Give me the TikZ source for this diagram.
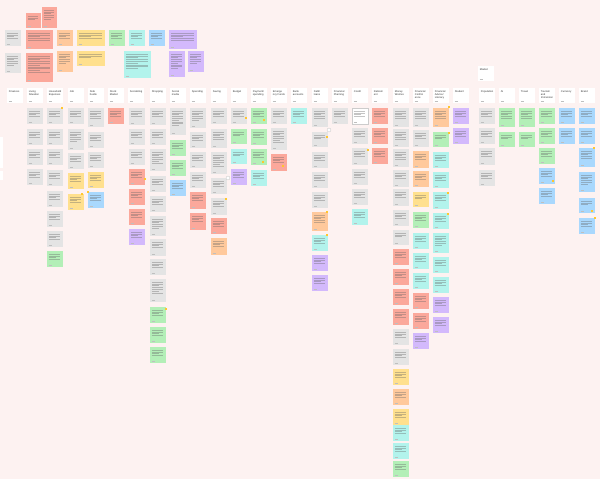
\documentclass[tikz,border=0pt]{standalone}
\usepackage{fontspec}
\setmainfont{Liberation Sans}
\usetikzlibrary{shadows}
\definecolor{bg}{HTML}{FDF2F1}
\definecolor{sg}{HTML}{E4E4E4}
\definecolor{sr}{HTML}{FBA89B}
\definecolor{so}{HTML}{FFC99C}
\definecolor{sy}{HTML}{FFE08E}
\definecolor{sgr}{HTML}{B3EFB7}
\definecolor{sc}{HTML}{B2F3EC}
\definecolor{sb}{HTML}{A9D8FD}
\definecolor{sp}{HTML}{D3B9FC}
\definecolor{sw}{HTML}{FFFFFF}
\definecolor{tagy}{HTML}{FFC62E}
\tikzset{
 stickybox/.style={anchor=north west, inner sep=0pt, minimum width=0.8cm, draw=none,
   drop shadow={opacity=0.12, shadow xshift=0.15pt, shadow yshift=-0.35pt}},
 headbox/.style={stickybox, fill=white, minimum height=0.75cm},
 headtext/.style={anchor=north west, inner sep=0pt, font=\fontsize{3.7}{4.5}\selectfont, align=left, text=black!80},
 fakeline/.style={draw=black!60, line width=0.2pt, opacity=0.38},
 footline/.style={draw=black!25, line width=0.3pt},
 tagdot/.style={fill=tagy, draw=none, inner sep=0pt, minimum size=0.13cm, anchor=center},
 bubble/.style={fill=white, draw=black!35, line width=0.2pt, circle, inner sep=0pt, minimum size=0.2cm}
}
\newcommand\stk[5]{%
 \node[stickybox, fill=#5, minimum height={#4*0.05cm}] (#1) at (#2,#3) {};
 \pgfmathtruncatemacro\nl{max(2,min(11,(#4-8)/2))}%
 \foreach \k in {1,...,\nl}{\pgfmathsetmacro\ll{mod(\k,3)==0?7:11.5}\draw[fakeline] ([shift={(1.8,1.0+1.8*\k)}]#1.north west) -- ++(\ll,0);}
 \draw[footline] ([shift={(1.8,-2.2)}]#1.south west) -- ++(3,0);
}
\newcommand\stkw[6]{% wide sticky: name x y w h color
 \node[stickybox, fill=#6, minimum width={#4*0.05cm}, minimum height={#5*0.05cm}] (#1) at (#2,#3) {};
 \pgfmathtruncatemacro\nl{max(2,min(14,(#5-8)/2))}%
 \foreach \k in {1,...,\nl}{\pgfmathsetmacro\ll{mod(\k,3)==0?(#4*0.45):(#4-5)}\draw[fakeline] ([shift={(1.8,1.0+1.8*\k)}]#1.north west) -- ++(\ll,0);}
 \draw[footline] ([shift={(1.8,-2.2)}]#1.south west) -- ++(3,0);
}
\newcommand\hd[4]{%
 \node[headbox] (#1) at (#2,#3) {};
 \node[headtext] (#1t) at ([shift={(1.8,2.4)}]#1.north west) {#4};
 \draw[footline] ([shift={(1.8,-2.2)}]#1.south west) -- ++(3,0);
}
\begin{document}
\begin{tikzpicture}[x=0.05cm, y=-0.05cm]
\fill[bg] (0,0) rectangle (600,479);
\useasboundingbox (0,0) rectangle (600,479);

% left edge partial boxes
\node[stickybox, fill=white, minimum width=0.4cm, minimum height=1.55cm] (e1) at (-5,137) {};
\node[stickybox, fill=white, minimum width=0.4cm, minimum height=0.45cm] (e2) at (-5,171) {};

% top-left cluster
\stkw{t1}{5}{30}{16}{16}{sg}
\stkw{t2}{26}{13}{15}{15}{sr}
\stkw{t3}{42}{7}{15}{21}{sr}
\stkw{t4}{26}{30}{27}{19}{sr}
\stkw{t5}{57}{30}{16}{16}{so}
\stkw{t6}{77}{30}{28}{16}{sy}
\stkw{t7}{109}{30}{16}{16}{sgr}
\stkw{t8}{129}{30}{16}{16}{sc}
\stkw{t9}{149}{30}{16}{16}{sb}
\stkw{t10}{169}{30}{28}{19}{sp}
\stkw{t11}{5}{53}{16}{20}{sg}
\stkw{t12}{26}{53}{27}{29}{sr}
\stkw{t13}{57}{51}{16}{21}{so}
\stkw{t14}{77}{51}{28}{15}{sy}
\stkw{t15}{124}{51}{27}{27}{sc}
\stkw{t16}{169}{51}{16}{26}{sp}
\stkw{t17}{188}{51}{16}{21}{sp}

% headers
\hd{h0}{478}{66}{Market}
\foreach \x/\t [count=\i] in {7/Finances, 27/{Living\\Situation}, 47/{Household\\Expenses}, 68/Job,
  88/{Side\\hustle}, 108/{Stock\\Market}, 128/Socializing, 150/Shopping, 170/{Social\\media},
  190/Spending, 211/Saving, 231/Budget, 251/{Payment/\\spending}, 271/{Emerge\\ncy Funds},
  291/{Bank\\accounts}, 312/{Debt/\\loans}, 332/{Financial\\Planning}, 352/Credit,
  372/{Retirem\\ent}, 393/{Money\\Worries}, 413/{Financial\\Confid-\\ence},
  433/{Financial\\Advice/\\Literacy}, 453/Student, 479/Population, 499/AI, 519/Travel,
  539/{Tourism\\and\\Immersion}, 559/Currency, 579/Brand}
  {\hd{h\i}{\x}{88}{\t}}

% columns
\foreach \y/\h/\c [count=\i] in {108/16/sg,129/16/sg,149/16/sg,169/16/sg}
  {\stk{a2-\i}{27}{\y}{\h}{\c}}
\foreach \y/\h/\c [count=\i] in {108/16/sg,129/16/sg,149/16/sg,170/16/sg,191/16/sg,211/16/sg,231/16/sg,251/16/sgr}
  {\stk{a3-\i}{47}{\y}{\h}{\c}}
\foreach \y/\h/\c [count=\i] in {108/16/sg,129/21/sg,153/16/sg,173/16/sy,194/16/sy}
  {\stk{a4-\i}{68}{\y}{\h}{\c}}
\foreach \y/\h/\c [count=\i] in {108/19/sg,132/16/sg,152/16/sg,172/16/sy,192/16/sb}
  {\stk{a5-\i}{88}{\y}{\h}{\c}}
\stk{a6-1}{108}{108}{16}{sr}
\foreach \y/\h/\c [count=\i] in {108/17/sg,129/16/sg,149/16/sg,169/16/sr,189/16/sr,209/16/sr,229/16/sp}
  {\stk{a7-\i}{129}{\y}{\h}{\c}}
\foreach \y/\h/\c [count=\i] in {108/17/sg,129/16/sg,149/22/sg,176/16/sg,196/16/sg,216/20/sg,239/17/sg,259/16/sg,279/23/sg,307/16/sgr,327/16/sgr,347/16/sgr}
  {\stk{a8-\i}{150}{\y}{\h}{\c}}
\foreach \y/\h/\c [count=\i] in {108/27/sg,140/16/sgr,160/16/sgr,180/16/sb}
  {\stk{a9-\i}{170}{\y}{\h}{\c}}
\foreach \y/\h/\c [count=\i] in {108/20/sg,132/16/sg,152/16/sg,172/16/sg,192/17/sr,213/17/sr}
  {\stk{a10-\i}{190}{\y}{\h}{\c}}
\foreach \y/\h/\c [count=\i] in {108/16/sg,129/19/sg,152/22/sg,178/16/sg,198/17/sg,218/16/sr,238/17/so}
  {\stk{a11-\i}{211}{\y}{\h}{\c}}
\foreach \y/\h/\c [count=\i] in {108/16/sg,129/15/sgr,149/15/sc,169/16/sp}
  {\stk{a12-\i}{231}{\y}{\h}{\c}}
\foreach \y/\h/\c [count=\i] in {108/16/sgr,129/16/sgr,149/16/sgr,170/16/sc}
  {\stk{a13-\i}{251}{\y}{\h}{\c}}
\foreach \y/\h/\c [count=\i] in {108/16/sg,128/22/sg,154/17/sr}
  {\stk{a14-\i}{271}{\y}{\h}{\c}}
\stk{a15-1}{291}{108}{16}{sc}
\foreach \y/\h/\c [count=\i] in {108/19/sg,132/15/sg,152/16/sg,172/16/sg,192/16/sg,212/19/so,235/16/sc,255/16/sp,275/16/sp}
  {\stk{a16-\i}{312}{\y}{\h}{\c}}
\stk{a17-1}{332}{108}{16}{sg}
\foreach \y/\h/\c [count=\i] in {108/16/sw,128/16/sg,148/17/sg,169/16/sg,189/16/sg,209/16/sc}
  {\stk{a18-\i}{352}{\y}{\h}{\c}}
\draw[black!20, line width=0.2pt] (a18-1.north west) rectangle (a18-1.south east);
\foreach \y/\h/\c [count=\i] in {108/16/sr,128/16/sr,148/16/sr}
  {\stk{a19-\i}{372}{\y}{\h}{\c}}
\foreach \y/\h/\c [count=\i] in {108/19/sg,129/18/sg,149/18/sg,170/17/sg,189/17/sg,210/16/sg,230/15/sg,249/16/sr,269/16/sr,289/16/sr,309/16/sr,329/16/sg,349/16/sg,369/16/sy,389/16/so,409/16/sy,425/16/sc,443/16/sc,461/16/sgr}
  {\stk{a20-\i}{393}{\y}{\h}{\c}}
\foreach \y/\h/\c [count=\i] in {108/19/sg,130/17/sg,151/17/so,171/16/so,192/15/sy,212/16/sgr,233/16/sc,253/16/sc,273/16/sc,293/16/sr,313/16/sr,333/16/sp}
  {\stk{a21-\i}{413}{\y}{\h}{\c}}
\foreach \y/\h/\c [count=\i] in {108/19/so,132/15/sgr,152/16/sc,172/16/sc,192/17/sc,213/16/sc,233/20/sc,257/16/sc,277/16/sc,297/16/sp,317/16/sp}
  {\stk{a22-\i}{433}{\y}{\h}{\c}}
\foreach \y/\h/\c [count=\i] in {108/16/sp,128/16/sp}
  {\stk{a23-\i}{453}{\y}{\h}{\c}}
\foreach \y/\h/\c [count=\i] in {108/16/sg,128/16/sg,148/17/sg,170/16/sg}
  {\stk{a24-\i}{479}{\y}{\h}{\c}}
\foreach \y/\h/\c [count=\i] in {108/19/sgr,132/15/sgr}
  {\stk{a25-\i}{499}{\y}{\h}{\c}}
\foreach \y/\h/\c [count=\i] in {108/19/sgr,132/15/sgr}
  {\stk{a26-\i}{519}{\y}{\h}{\c}}
\foreach \y/\h/\c [count=\i] in {108/16/sgr,128/16/sgr,148/16/sgr,168/16/sb,188/16/sb}
  {\stk{a27-\i}{539}{\y}{\h}{\c}}
\foreach \y/\h/\c [count=\i] in {108/16/sb,128/16/sb}
  {\stk{a28-\i}{559}{\y}{\h}{\c}}
\foreach \y/\h/\c [count=\i] in {108/16/sb,128/16/sb,148/19/sb,172/20/sb,198/15/sb,218/16/sb}
  {\stk{a29-\i}{579}{\y}{\h}{\c}}

% yellow tag dots
\foreach \x/\y [count=\i] in {62/108, 82/194, 88/192, 145/179, 246/118, 264/120, 263/162, 283/166,
  327/137, 327/212, 327/235, 368/150, 226/199, 449/107, 449/133, 448/193, 448/214,
  553/181, 594/148, 592/211, 595/218, 166/309}
  {\node[tagdot] (d\i) at (\x,\y) {};}
% comment bubbles
\node[bubble] (cb1) at (228,178) {};
\node[bubble] (cb2) at (329,130) {};
\end{tikzpicture}
\end{document}
